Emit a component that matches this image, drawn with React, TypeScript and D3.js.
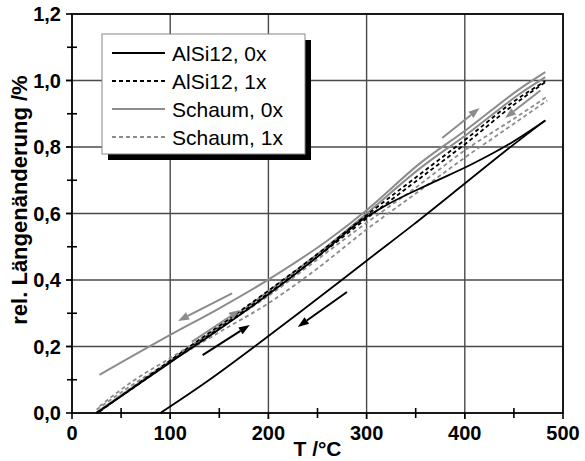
import React from "react";
import * as d3 from "d3";

// ---- data (T in °C, rel. Längenänderung in %) ----
const xTicks = [0, 100, 200, 300, 400, 500];
const xMinor = [50, 150, 250, 350, 450];
const yTicks = [0, 0.2, 0.4, 0.6, 0.8, 1.0, 1.2];
const yMinor = [0.1, 0.3, 0.5, 0.7, 0.9, 1.1];

const alsi0Heat: [number, number][] = [
  [25, 0], [50, 0.05], [100, 0.152], [150, 0.252], [200, 0.357], [250, 0.47], [300, 0.59],
  [320, 0.625], [365, 0.69], [405, 0.745], [443, 0.805], [482, 0.88],
];
const alsi0Cool: [number, number][] = [
  [90, 0], [140, 0.1], [186, 0.2], [233, 0.305], [277, 0.405], [300, 0.458], [347, 0.565], [400, 0.69], [440, 0.785], [482, 0.88],
];
const alsi1Heat: [number, number][] = [
  [25, 0], [100, 0.153], [200, 0.36], [250, 0.47], [300, 0.585], [357, 0.712], [403, 0.815], [449, 0.925], [482, 0.995],
];
const alsi1Cool: [number, number][] = [
  [28, 0.004], [100, 0.158], [200, 0.368], [250, 0.478], [300, 0.595], [357, 0.724], [403, 0.828], [449, 0.935], [482, 0.998],
];
const schaum0Heat: [number, number][] = [
  [25, 0.002], [100, 0.156], [200, 0.366], [250, 0.478], [300, 0.6], [354, 0.735], [403, 0.84], [456, 0.96], [482, 1.01],
];
const schaum0Cool: [number, number][] = [
  [28, 0.115], [100, 0.235], [150, 0.315], [202, 0.405], [263, 0.525], [300, 0.61], [354, 0.75], [403, 0.855], [456, 0.975], [482, 1.025],
];
const schaum1Heat: [number, number][] = [
  [25, 0.01], [60, 0.082], [100, 0.155], [150, 0.243], [200, 0.33], [250, 0.435], [300, 0.552], [350, 0.66], [400, 0.768], [450, 0.87], [484, 0.94],
];
const schaum1Cool: [number, number][] = [
  [28, 0.02], [60, 0.092], [100, 0.165], [150, 0.256], [200, 0.352], [250, 0.462], [300, 0.572], [350, 0.678], [400, 0.79], [450, 0.885], [484, 0.952],
];

// arrows: [T0, v0, T1, v1] (head at T1,v1)
const grayArrows: [number, number, number, number][] = [
  [163, 0.36, 108, 0.277],
  [122, 0.214, 171, 0.31],
  [377, 0.827, 415, 0.917],
  [477, 0.97, 441, 0.887],
];
const blackArrows: [number, number, number, number][] = [
  [133, 0.174, 181, 0.265],
  [280, 0.364, 230, 0.259],
];

const legendItems = [
  { label: "AlSi12, 0x", color: "#000", dash: "none" },
  { label: "AlSi12, 1x", color: "#000", dash: "4,3" },
  { label: "Schaum, 0x", color: "#8c8c8c", dash: "none" },
  { label: "Schaum, 1x", color: "#8c8c8c", dash: "4,3" },
];

const W = 585, H = 461;
const GRAY = "#8c8c8c";
const FONT = "'Liberation Sans', Arial, Helvetica, sans-serif";

export default function App() {
  const x = d3.scaleLinear().domain([0, 500]).range([72, 563]);
  const y = d3.scaleLinear().domain([0, 1.2]).range([413, 14]);
  const line = d3
    .line<[number, number]>()
    .x((d) => x(d[0]))
    .y((d) => y(d[1]))
    .curve(d3.curveMonotoneX);

  const x0 = x(0), x1 = x(500), y0 = y(0), y1 = y(1.2);

  const arrow = (a: [number, number, number, number], color: string, key: string) => {
    const sx = x(a[0]), sy = y(a[1]), ex = x(a[2]), ey = y(a[3]);
    const ang = Math.atan2(ey - sy, ex - sx);
    const hl = 11, hw = 4;
    const bx = ex - hl * Math.cos(ang), by = ey - hl * Math.sin(ang);
    const px = -Math.sin(ang) * hw, py = Math.cos(ang) * hw;
    return (
      <g key={key}>
        <line x1={sx} y1={sy} x2={bx} y2={by} stroke={color} strokeWidth={2} />
        <path d={`M${ex},${ey}L${bx + px},${by + py}L${bx - px},${by - py}Z`} fill={color} />
      </g>
    );
  };

  return (
    <svg width={W} height={H} style={{ position: "absolute", left: 0, top: 0, background: "#fff" }} fontFamily={FONT}>
      {/* grid */}
      {xTicks.slice(1, -1).map((t) => (
        <line key={"gx" + t} x1={x(t)} x2={x(t)} y1={y1} y2={y0 + 6} stroke="#4a4a4a" strokeWidth={1.4} />
      ))}
      {yTicks.slice(1, -1).map((t) => (
        <line key={"gy" + t} x1={x0 - 6} x2={x1} y1={y(t)} y2={y(t)} stroke="#4a4a4a" strokeWidth={1.4} />
      ))}
      {/* curves */}
      <path d={line(schaum0Heat)!} fill="none" stroke={GRAY} strokeWidth={2} />
      <path d={line(schaum0Cool)!} fill="none" stroke={GRAY} strokeWidth={2} />
      <path d={line(schaum1Heat)!} fill="none" stroke={GRAY} strokeWidth={1.8} strokeDasharray="4,3" />
      <path d={line(schaum1Cool)!} fill="none" stroke={GRAY} strokeWidth={1.8} strokeDasharray="4,3" />
      <path d={line(alsi1Heat)!} fill="none" stroke="#000" strokeWidth={1.8} strokeDasharray="4,3" />
      <path d={line(alsi1Cool)!} fill="none" stroke="#000" strokeWidth={1.8} strokeDasharray="4,3" />
      <path d={line(alsi0Heat)!} fill="none" stroke="#000" strokeWidth={1.8} />
      <path d={line(alsi0Cool)!} fill="none" stroke="#000" strokeWidth={1.8} />
      {grayArrows.map((a, i) => arrow(a, GRAY, "ga" + i))}
      {blackArrows.map((a, i) => arrow(a, "#000", "ba" + i))}
      {/* frame */}
      <rect x={x0} y={y1} width={x1 - x0} height={y0 - y1} fill="none" stroke="#000" strokeWidth={1.8} />
      {/* ticks */}
      {yTicks.map((t) => (
        <line key={"yt" + t} x1={x0 - 6} x2={x0} y1={y(t)} y2={y(t)} stroke="#000" strokeWidth={1.6} />
      ))}
      {yMinor.map((t) => (
        <line key={"ym" + t} x1={x0 - 5} x2={x0 + 5} y1={y(t)} y2={y(t)} stroke="#000" strokeWidth={1.6} />
      ))}
      {xTicks.map((t) => (
        <line key={"xt" + t} x1={x(t)} x2={x(t)} y1={y0} y2={y0 + 6} stroke="#000" strokeWidth={1.6} />
      ))}
      {xMinor.map((t) => (
        <line key={"xm" + t} x1={x(t)} x2={x(t)} y1={y0 - 5} y2={y0 + 5} stroke="#000" strokeWidth={1.6} />
      ))}
      {/* tick labels */}
      {yTicks.map((t) => (
        <text key={"yl" + t} x={x0 - 11} y={y(t)} dy="0.36em" textAnchor="end" fontSize={20} fontWeight="bold">
          {d3.format(".1f")(t).replace(".", ",")}
        </text>
      ))}
      {xTicks.map((t) => (
        <text key={"xl" + t} x={x(t)} y={y0 + 27} textAnchor="middle" fontSize={20} fontWeight="bold">
          {t}
        </text>
      ))}
      <text x={(x0 + x1) / 2} y={456} textAnchor="middle" fontSize={21} fontWeight="bold">
        T /°C
      </text>
      <text
        transform={`translate(27,${200}) rotate(-90)`}
        textAnchor="middle"
        fontSize={22}
        fontWeight="bold"
      >
        rel. Längenänderung /%
      </text>
      {/* legend */}
      <rect x={108} y={40} width={203} height={120} fill="#000" />
      <rect x={102} y={34} width={203} height={120} fill="#fff" stroke="#888" strokeWidth={1} />
      {legendItems.map((it, i) => {
        const ly = 53 + i * 28;
        return (
          <g key={it.label}>
            <line x1={112} x2={165} y1={ly} y2={ly} stroke={it.color} strokeWidth={it.dash === "none" ? 2 : 1.8} strokeDasharray={it.dash} />
            <text x={172} y={ly} dy="0.36em" fontSize={21}>
              {it.label}
            </text>
          </g>
        );
      })}
    </svg>
  );
}
